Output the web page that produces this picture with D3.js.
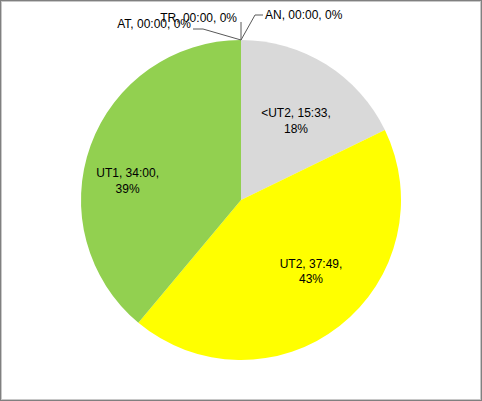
<!DOCTYPE html>
<html><head><meta charset="utf-8">
<script src="https://cdn.jsdelivr.net/npm/d3@7"></script>
<style>body{margin:0;background:#fff}svg{display:block}text{font-family:"Liberation Sans",Arial,sans-serif;font-size:12px;fill:#000}</style>
</head><body>
<script>
const categories = ["AN", "<UT2", "UT2", "UT1", "AT", "TR"];
const timeLabels = ["00:00", "15:33", "37:49", "34:00", "00:00", "00:00"];
const minutes = [0, 933, 2269, 2040, 0, 0];
const colors = ["#bfbfbf", "#d9d9d9", "#ffff00", "#92d050", "#4472c4", "#ed7d31"];

const W = 482, H = 401;
const svg = d3.select("body").append("svg").attr("width", W).attr("height", H);
svg.append("rect").attr("x",0.5).attr("y",0.5).attr("width",W-1).attr("height",H-1).attr("fill","#fff").attr("stroke","#808080");
svg.append("rect").attr("x",1.5).attr("y",1.5).attr("width",W-3).attr("height",H-3).attr("fill","none").attr("stroke","#c8c8c8");

const cx = 241, cy = 200, R = 160;
const total = d3.sum(minutes);
const data = categories.map((c,i)=>({name:c, time:timeLabels[i], value:minutes[i], color:colors[i], pct:Math.round(minutes[i]/total*100)}));
const pie = d3.pie().value(d=>d.value).sort(null);
const arcs = pie(data);
const arc = d3.arc().innerRadius(0).outerRadius(R);
const g = svg.append("g").attr("transform",`translate(${cx},${cy})`);
g.selectAll("path").data(arcs.filter(a=>a.data.value>0)).join("path")
  .attr("d",arc).attr("fill",d=>d.data.color);

// inside labels
const labelArcR = {"<UT2":0.61,"UT2":0.62,"UT1":0.72};
const angleShift = {"<UT2":0.04,"UT2":-0.12,"UT1":-0.17};
arcs.filter(a=>a.data.value>0).forEach(a=>{
  const mid = (a.startAngle+a.endAngle)/2 + (angleShift[a.data.name]||0);
  const r = R*(labelArcR[a.data.name]||0.62);
  const x = r*Math.sin(mid), y = -r*Math.cos(mid);
  const t = g.append("text").attr("text-anchor","middle").attr("x",x).attr("y",y);
  t.append("tspan").attr("x",x).attr("dy","-0.2em").text(`${a.data.name}, ${a.data.time},`);
  t.append("tspan").attr("x",x).attr("dy","1.3em").text(`${a.data.pct}%`);
});

// outside labels for zero slices with leader lines
const zeroLayout = {
  "AN": {pts:[[14,-25],[22,-25]], tx:24, ty:-21, anchor:"start"},
  "TR": {pts:[[0,-18]], tx:-4, ty:-18, anchor:"end"},
  "AT": {pts:[[-38,-11],[-48,-11]], tx:-50, ty:-12, anchor:"end"}
};
arcs.filter(a=>a.data.value===0).forEach(a=>{
  const L = zeroLayout[a.data.name];
  const apex = [0, -R];
  const pts = [apex].concat(L.pts.map(p=>[p[0], -R+p[1]]));
  g.append("path").attr("d", d3.line()(pts)).attr("fill","none").attr("stroke","#595959").attr("stroke-width",1);
  g.append("text").attr("x",L.tx).attr("y",-R+L.ty).attr("text-anchor",L.anchor)
    .text(`${a.data.name}, ${a.data.time}, ${a.data.pct}%`);
});
</script>
</body></html>
